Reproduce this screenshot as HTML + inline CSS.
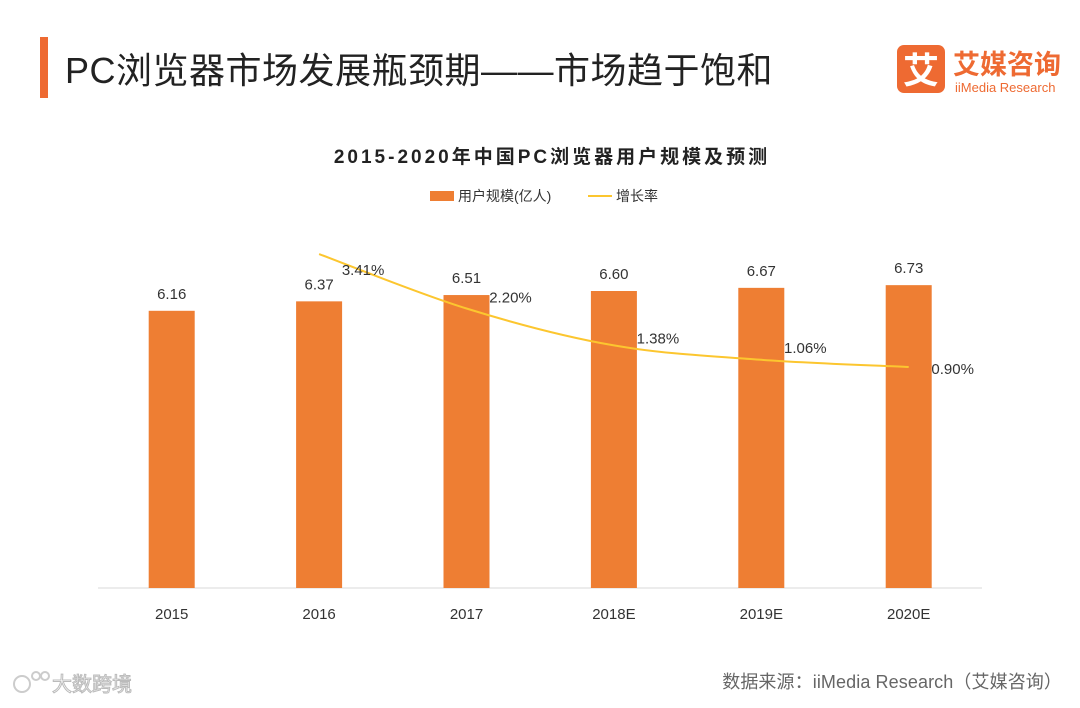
<!DOCTYPE html>
<html><head><meta charset="utf-8"><style>
body{margin:0;width:1080px;height:703px;background:#fff;overflow:hidden;font-family:"Liberation Sans","Noto Sans CJK SC",sans-serif;}
</style></head><body>
<svg width="1080" height="703" viewBox="0 0 1080 703" style="font-family:'Liberation Sans','Noto Sans CJK SC',sans-serif">
<rect x="40" y="37" width="8" height="61" fill="#ee6a32"/>
<text x="65" y="83" font-size="36" letter-spacing="0.5" fill="#222">PC浏览器市场发展瓶颈期——市场趋于饱和</text>
<g>
<rect x="897" y="45" width="48" height="48" rx="7" fill="#ee6a32"/>
<text x="921" y="83" font-size="36" font-weight="bold" fill="#fff" text-anchor="middle">艾</text>
<text x="953" y="74" font-size="27" font-weight="bold" fill="#ee6a32">艾媒咨询</text>
<text x="955" y="92" font-size="13" fill="#ee6a32">iiMedia Research</text>
</g>
<text x="552" y="163" font-size="19" letter-spacing="3" font-weight="bold" fill="#222" text-anchor="middle">2015-2020年中国PC浏览器用户规模及预测</text>
<g>
<rect x="430" y="191" width="24" height="10" fill="#ee7e33"/>
<text x="458" y="201" font-size="14" fill="#333">用户规模(亿人)</text>
<line x1="588" y1="196" x2="612" y2="196" stroke="#fcc62f" stroke-width="2"/>
<text x="616" y="201" font-size="14" fill="#333">增长率</text>
</g>
<line x1="98" y1="588" x2="982" y2="588" stroke="#d9d9d9" stroke-width="1"/>
<g id="plot"></g>
<g fill="none" stroke="#ccc" stroke-width="2">
<circle cx="22" cy="684" r="8"/><circle cx="36" cy="676" r="4"/><circle cx="45" cy="676" r="4"/>
</g>
<text x="52" y="691" font-size="20" fill="#fff" stroke="#bbb" stroke-width="1">大数跨境</text>
<text x="1062" y="688" font-size="18" letter-spacing="0.1" fill="#666" text-anchor="end">数据来源：iiMedia Research（艾媒咨询）</text>
</svg>
<script>
const categories=["2015","2016","2017","2018E","2019E","2020E"];
const users=[6.16,6.37,6.51,6.60,6.67,6.73];
const growth=[null,3.41,2.20,1.38,1.06,0.90];
const growthLabels=["","3.41%","2.20%","1.38%","1.06%","0.90%"];
const NS="http://www.w3.org/2000/svg";
const g=document.getElementById('plot');
const x0=98,band=147.4,base=588;
const xc=i=>x0+band*(i+0.5);
const yBar=v=>base-v*45;
const yLine=v=>407.5-v*45;
const lblDy=[0,16,-11,-7,-12,2];
function mk(t,a){const e=document.createElementNS(NS,t);for(const k in a)e.setAttribute(k,a[k]);g.appendChild(e);return e;}
categories.forEach((c,i)=>{
 const r=mk('rect',{x:xc(i)-23,y:yBar(users[i]),width:46,height:base-yBar(users[i]),fill:'#ee7e33'});
 
 
 const t=mk('text',{x:xc(i),y:yBar(users[i])-12,'font-size':15,fill:'#333','text-anchor':'middle'});
 t.textContent=users[i].toFixed(2);
 
 
 const xl=mk('text',{x:xc(i),y:619,'font-size':15,fill:'#333','text-anchor':'middle'});
 xl.textContent=c;
 
 
});
const pts=[];growth.forEach((v,i)=>{if(v!==null)pts.push([xc(i),yLine(v),i]);});
let d='M'+pts[0][0]+','+pts[0][1];
for(let k=0;k<pts.length-1;k++){
 const p0=pts[Math.max(k-1,0)],p1=pts[k],p2=pts[k+1],p3=pts[Math.min(k+2,pts.length-1)];
 const c1=[p1[0]+(p2[0]-p0[0])/6,p1[1]+(p2[1]-p0[1])/6],c2=[p2[0]-(p3[0]-p1[0])/6,p2[1]-(p3[1]-p1[1])/6];
 d+=` C${c1[0]},${c1[1]} ${c2[0]},${c2[1]} ${p2[0]},${p2[1]}`;
}
const path=mk('path',{d:d,fill:'none',stroke:'#fcc62f','stroke-width':2});


pts.forEach(p=>{
 const t=mk('text',{x:p[0]+44,y:p[1]+lblDy[p[2]]+5,'font-size':15,fill:'#333','text-anchor':'middle'});
 t.textContent=growthLabels[p[2]];
 
 
});
</script>
</body></html>
